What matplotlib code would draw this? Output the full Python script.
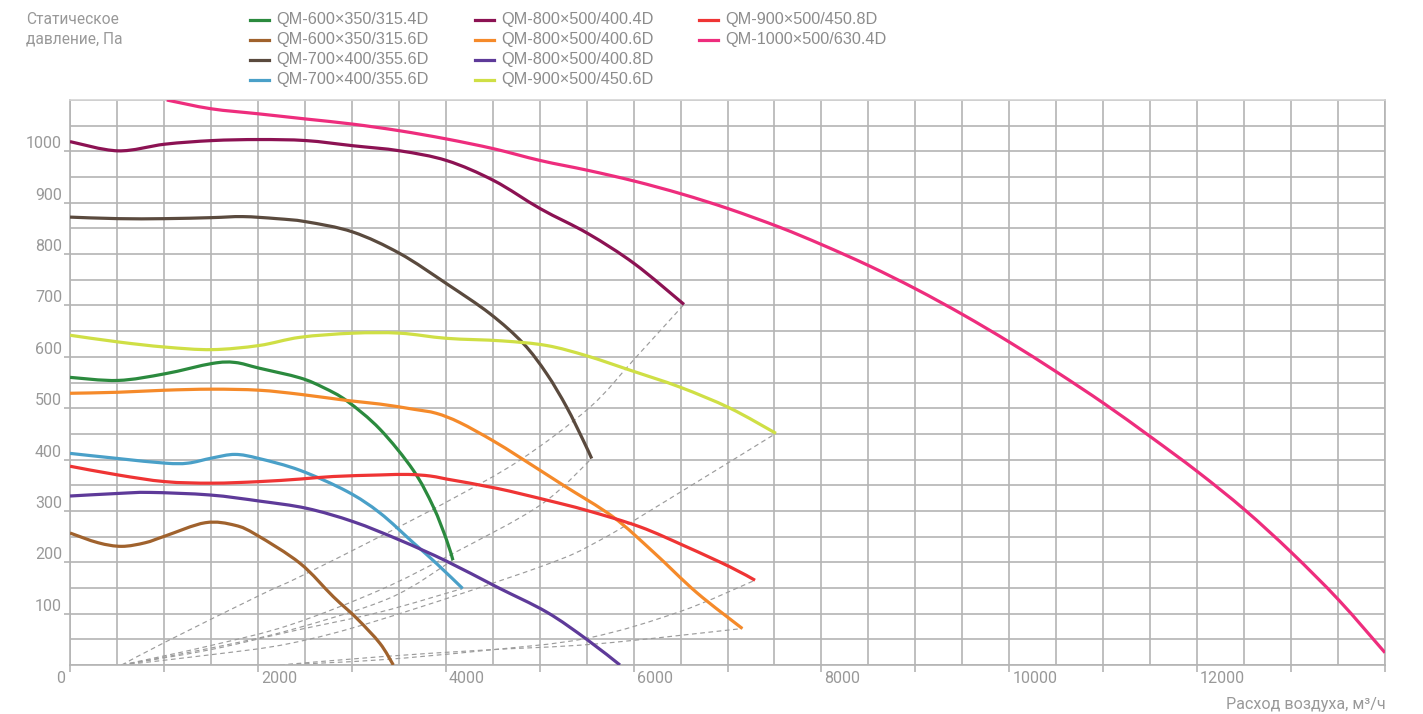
import numpy as np
import matplotlib
matplotlib.use("Agg")
import matplotlib.pyplot as plt
from matplotlib.path import Path
from matplotlib.patches import PathPatch
from matplotlib.lines import Line2D
import matplotlib.transforms as mtrans

# ---------------- data ----------------
labels = [
    "QM-600×350/315.4D", "QM-600×350/315.6D", "QM-700×400/355.6D", "QM-700×400/355.6D",
    "QM-800×500/400.4D", "QM-800×500/400.6D", "QM-800×500/400.8D", "QM-900×500/450.6D",
    "QM-900×500/450.8D", "QM-1000×500/630.4D",
]
colors = ["#2b8a3e", "#a0622d", "#5a4a3e", "#4aa0c8",
          "#8c1253", "#f58a2a", "#5e3a99", "#cfdf45",
          "#ef3434", "#ee2d7d"]

x_600_4 = [0, 511, 1011, 1512, 1757, 2012, 2449, 2700, 2949, 3300, 3655, 3868, 4010, 4077]
y_600_4 = [560, 554, 567, 587, 589, 578, 559, 540, 514, 459, 379, 308, 243, 204]

x_600_6 = [0, 300, 550, 800, 1011, 1440, 1757, 1988, 2449, 2803, 3052, 3300, 3442]
y_600_6 = [257, 238, 231, 238, 251, 277, 272, 253, 198, 133, 91, 42, 0]

x_700_6a = [0, 511, 1011, 1512, 1840, 2200, 2512, 3011, 3513, 4012, 4471, 4826, 5075, 5288, 5465, 5554]
y_700_6a = [872, 869, 869, 871, 873, 869, 863, 843, 801, 742, 684, 626, 567, 502, 437, 402]

x_700_6b = [0, 511, 1011, 1256, 1512, 1757, 2012, 2449, 2949, 3300, 3655, 3900, 4180]
y_700_6b = [412, 402, 393, 393, 403, 410, 402, 379, 338, 296, 238, 198, 149]

x_800_4 = [0, 511, 1011, 1513, 2011, 2512, 3011, 3513, 4012, 4513, 5011, 5514, 6011, 6537]
y_800_4 = [1019, 1001, 1014, 1021, 1023, 1021, 1011, 1001, 982, 943, 888, 840, 781, 702]

x_800_6 = [0, 511, 1011, 1512, 2012, 2449, 2949, 3300, 3655, 3900, 4150, 4500, 4791, 5252, 5784, 6210, 6672, 7158]
y_800_6 = [529, 531, 535, 537, 535, 527, 515, 508, 498, 490, 472, 437, 404, 350, 288, 220, 141, 71]

x_800_8 = [0, 511, 852, 1490, 2023, 2520, 3016, 3513, 4010, 4543, 5075, 5501, 5855]
y_800_8 = [329, 334, 336, 331, 319, 305, 279, 243, 202, 152, 103, 50, 0]

x_900_6 = [0, 511, 1011, 1512, 2012, 2449, 3011, 3513, 4010, 4600, 5075, 5501, 5962, 6494, 7027, 7516]
y_900_6 = [642, 629, 619, 614, 622, 638, 646, 646, 636, 631, 622, 602, 574, 541, 500, 451]

x_900_8 = [0, 511, 1011, 1512, 2012, 2449, 2803, 3300, 3600, 3833, 4010, 4543, 5075, 5501, 6068, 6565, 7027, 7293]
y_900_8 = [387, 370, 357, 354, 357, 362, 367, 370, 371, 368, 362, 344, 321, 301, 269, 230, 191, 165]

x_1000_4 = [1030, 1500, 2011, 2512, 3011, 3513, 4012, 4513, 5011, 5514, 6011, 6513, 7016, 7559, 8009, 8510,
            9006, 9507, 10007, 10508, 11009, 11506, 12007, 12507, 13004, 13510, 14000]
y_1000_4 = [1100, 1083, 1073, 1063, 1053, 1040, 1024, 1005, 982, 963, 942, 917, 888, 852, 818, 777,
            732, 682, 628, 570, 509, 444, 376, 302, 219, 126, 24]

series_x = [x_600_4, x_600_6, x_700_6a, x_700_6b, x_800_4, x_800_6, x_800_8, x_900_6, x_900_8, x_1000_4]
series_y = [y_600_4, y_600_6, y_700_6a, y_700_6b, y_800_4, y_800_6, y_800_8, y_900_6, y_900_8, y_1000_4]

# dashed system curves
sys_x = [
    [550, 1029, 2023, 2449, 3300, 4045, 4791, 5536, 6015, 6537],
    [550, 1500, 2342, 3300, 4045, 5004, 5554],
    [550, 1500, 2342, 3400, 4074],
    [550, 1500, 2342, 3300, 4180],
    [550, 1500, 2342, 3300, 5004, 5643, 6529, 7516],
    [2236, 3300, 4400, 5501, 6494, 7293],
    [2236, 3300, 4400, 5600, 7158],
]
sys_y = [
    [0, 46, 136, 172, 250, 321, 399, 502, 597, 702],
    [0, 38, 78, 146, 214, 311, 402],
    [0, 33, 68, 130, 204],
    [0, 30, 65, 103, 149],
    [0, 20, 42, 88, 191, 243, 340, 451],
    [0, 10, 28, 52, 104, 165],
    [0, 16, 29, 41, 71],
]

x_tick_vals = [0, 2000, 4000, 6000, 8000, 10000, 12000]
y_tick_vals = [100, 200, 300, 400, 500, 600, 700, 800, 900, 1000]

# ---------------- helpers ----------------
def smooth_path(xs, ys):
    p = np.column_stack([xs, ys]).astype(float)
    n = len(p)
    verts = [p[0]]
    codes = [Path.MOVETO]
    for i in range(n - 1):
        p0 = p[i - 1] if i > 0 else p[i]
        p1 = p[i]
        p2 = p[i + 1]
        p3 = p[i + 2] if i + 2 < n else p[i + 1]
        c1 = p1 + (p2 - p0) / 6.0
        c2 = p2 - (p3 - p1) / 6.0
        verts += [c1, c2, p2]
        codes += [Path.CURVE4] * 3
    return Path(np.array(verts), codes)

TXT = "#999999"
GRID = "#b4b4b4"
W, H = 1423, 714

fig = plt.figure(figsize=(W / 100, H / 100), dpi=100)
ax = fig.add_axes([70 / W, 1 - 665 / H, 1315 / W, 565 / H])
ax.set_xlim(0, 14000)
ax.set_ylim(0, 1100)

ax.set_xticks(np.arange(0, 14001, 1000))
ax.set_xticks(np.arange(0, 14001, 500), minor=True)
ax.set_yticks(y_tick_vals)
ax.set_yticks(np.arange(0, 1101, 50), minor=True)
ax.grid(True, which="both", color=GRID, lw=1.2, zorder=0)
ax.set_axisbelow(True)
ax.tick_params(which="major", axis="x", length=5, width=1.2, color=GRID, labelbottom=False)
ax.tick_params(which="major", axis="y", length=4, width=1.2, color=GRID, labelleft=False)
ax.tick_params(which="minor", length=0)
for s in ["left", "bottom", "right"]:
    ax.spines[s].set_color(GRID)
    ax.spines[s].set_linewidth(1.2)
ax.spines["top"].set_color("#d4d4d4")
ax.spines["top"].set_linewidth(1.2)

# dashed system curves
for xs, ys in zip(sys_x, sys_y):
    pp = PathPatch(smooth_path(xs, ys), fill=False, edgecolor="#9c9c9c", lw=0.85,
                   linestyle=(0, (4, 3)), zorder=2)
    ax.add_patch(pp)

# fan curves
for xs, ys, c in zip(series_x, series_y, colors):
    pp = PathPatch(smooth_path(xs, ys), fill=False, edgecolor=c, lw=2.3,
                   capstyle="butt", joinstyle="round", zorder=3)
    ax.add_patch(pp)

tick_font = "Roboto"
# y tick labels
for v in y_tick_vals:
    tr = mtrans.blended_transform_factory(ax.transAxes, ax.transData) + \
        mtrans.ScaledTranslation(-8 / 100, 3 / 100, fig.dpi_scale_trans)
    ax.text(0, v, str(v), transform=tr, ha="right", va="baseline",
            fontsize=11.5, color=TXT, family=tick_font)
# x tick labels
for v in x_tick_vals:
    if v == 0:
        off = -5
        ha = "right"
    else:
        off = 3
        ha = "left"
    tr = mtrans.blended_transform_factory(ax.transData, ax.transAxes) + \
        mtrans.ScaledTranslation(off / 100, -6 / 100, fig.dpi_scale_trans)
    ax.text(v, 0, str(v), transform=tr, ha=ha, va="top",
            fontsize=11.5, color=TXT, family=tick_font)

# axis titles
fig.text(26 / W, 1 - 12 / H, "Статическое\nдавление, Па", ha="left", va="top",
         fontsize=11.2, color=TXT, family=tick_font, linespacing=1.35)
fig.text(1386 / W, 1 - 704 / H, "Расход воздуха, м³/ч", ha="right", va="center",
         fontsize=11.6, color=TXT, family=tick_font)

# legend (3 columns, column-major)
col_x = [250, 475, 699]
row_y = [19.5, 39.5, 59.5, 79.5]
for i, (lab, c) in enumerate(zip(labels, colors)):
    col, row = divmod(i, 4)
    x0 = col_x[col]
    yy = 1 - row_y[row] / H
    fig.add_artist(Line2D([x0 / W, (x0 + 19) / W], [yy, yy], color=c, lw=2.3,
                          transform=fig.transFigure))
    fig.text((x0 + 26) / W, yy, lab, ha="left", va="center", fontsize=11.7,
             color="#8c8c8c", family="Liberation Sans")

fig.savefig("out.png", dpi=100)
